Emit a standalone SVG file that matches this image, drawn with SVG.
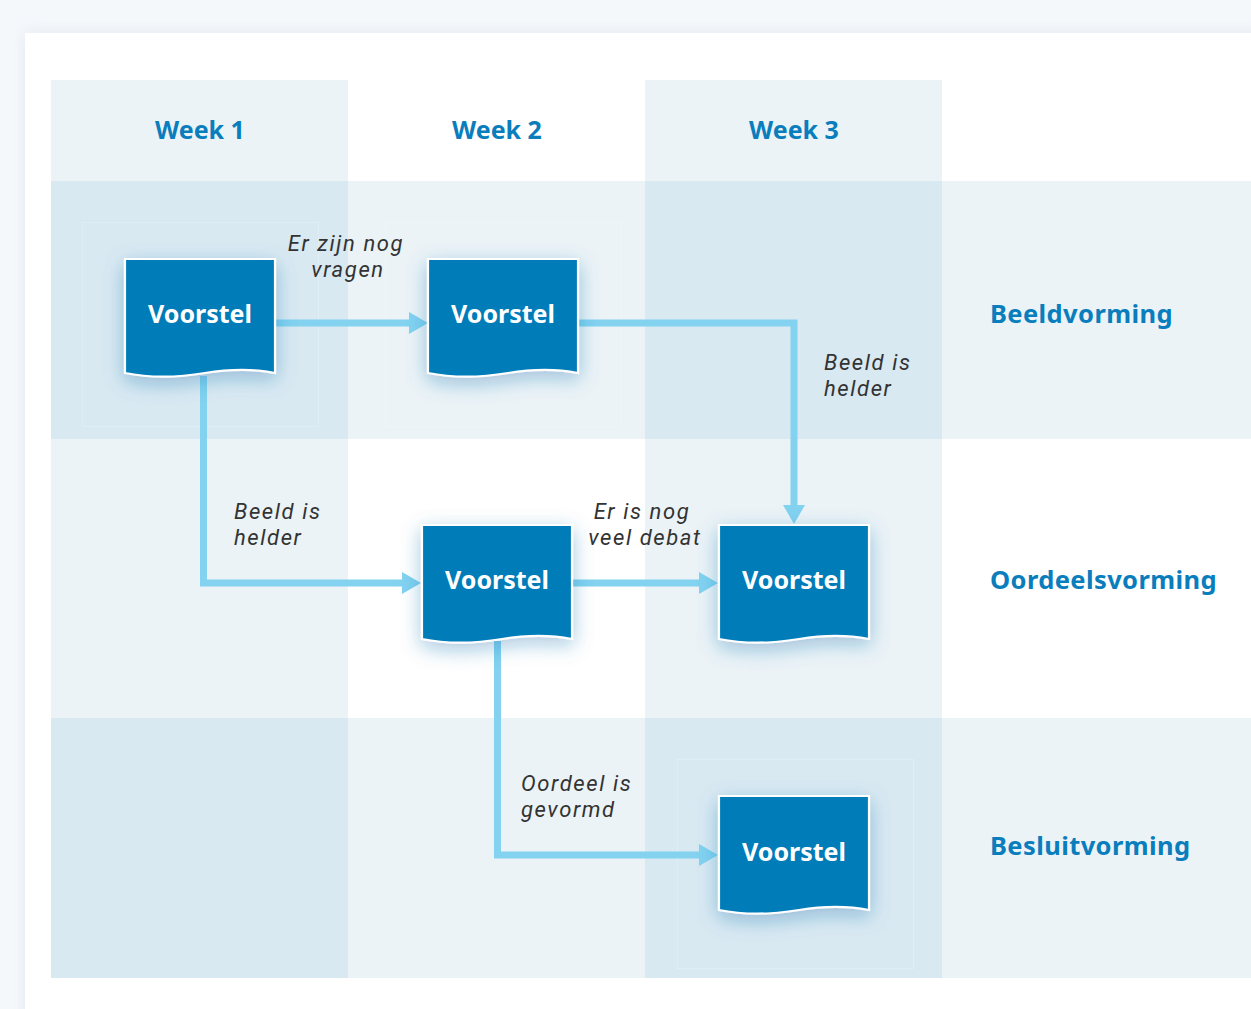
<svg xmlns="http://www.w3.org/2000/svg" width="1251" height="1009" viewBox="0 0 1251 1009">
  <defs>
    <style>
      .tint { fill: #ebf3f7; }
      .dark { fill: #d9e9f2; }
      .ghost { fill: none; stroke: #ffffff; stroke-opacity: 0.18; stroke-width: 1; }
      .node { fill: #007bb9; stroke: #ffffff; stroke-width: 2.2; filter: url(#shadow); }
      .ntext { font-family: "Noto Sans", "Liberation Sans", sans-serif; font-weight: 700; font-size: 25px; fill: #ffffff; text-anchor: middle; }
      .head { font-family: "Noto Sans", "Liberation Sans", sans-serif; font-weight: 700; font-size: 25px; fill: #0a7dbd; text-anchor: middle; }
      .row { font-family: "Noto Sans", "Liberation Sans", sans-serif; font-weight: 700; font-size: 25.5px; fill: #0a7dbd; letter-spacing: 0.4px; }
      .lbl { font-family: Roboto, "Liberation Sans", sans-serif; font-style: italic; font-size: 22px; fill: #333333; letter-spacing: 1.6px; }
      .mid { text-anchor: middle; }
      .conn { fill: none; stroke: #82d2f0; stroke-width: 7; stroke-linejoin: miter; }
    </style>
    <filter id="shadow" x="-40%" y="-40%" width="180%" height="190%">
      <feDropShadow dx="0" dy="6" stdDeviation="10" flood-color="#1e6fae" flood-opacity="0.38"/>
    </filter>
    <filter id="cardshadow" x="-5%" y="-5%" width="110%" height="110%">
      <feDropShadow dx="0" dy="0" stdDeviation="8" flood-color="#c9d6e6" flood-opacity="0.45"/>
    </filter>
    <marker id="arrow" markerUnits="userSpaceOnUse" viewBox="0 -11 19 22" markerWidth="19" markerHeight="22" refX="0" refY="0" orient="auto">
      <path d="M0,-11 L19,0 L0,11 Z" fill="#82d2f0"/>
    </marker>
  </defs>

  <!-- page and card -->
  <rect x="0" y="0" width="1251" height="1009" fill="#f5f8fb"/>
  <rect x="25" y="33" width="1240" height="990" fill="#ffffff" filter="url(#cardshadow)"/>

  <!-- grid background -->
  <g id="grid">
    <rect class="tint" x="51" y="80" width="297" height="898"/>
    <rect class="tint" x="645" y="80" width="297" height="898"/>
    <rect class="tint" x="51" y="181" width="1200" height="258"/>
    <rect class="tint" x="51" y="718" width="1200" height="260"/>
    <rect class="dark" x="51" y="181" width="297" height="258"/>
    <rect class="dark" x="645" y="181" width="297" height="258"/>
    <rect class="dark" x="51" y="718" width="297" height="260"/>
    <rect class="dark" x="645" y="718" width="297" height="260"/>
    <rect class="ghost" x="82.5" y="222.5" width="236" height="204"/>
    <rect class="ghost" x="385.5" y="222.5" width="236" height="204"/>
    <rect class="ghost" x="677.5" y="759.5" width="236" height="209"/>
  </g>

  <!-- headers -->
  <g id="headers">
    <text class="head" x="200" y="139">Week 1</text>
    <text class="head" x="497" y="139">Week 2</text>
    <text class="head" x="794" y="139">Week 3</text>
    <text class="row" x="990" y="323">Beeldvorming</text>
    <text class="row" x="990" y="589">Oordeelsvorming</text>
    <text class="row" x="990" y="855">Besluitvorming</text>
  </g>

  <!-- connectors -->
  <g id="connectors">
    <path class="conn" d="M276,323 H409" marker-end="url(#arrow)"/>
    <path class="conn" d="M579,323 H794 V505" marker-end="url(#arrow)"/>
    <path class="conn" d="M203.5,376 V583 H402" marker-end="url(#arrow)"/>
    <path class="conn" d="M573,583 H699" marker-end="url(#arrow)"/>
    <path class="conn" d="M497.5,641 V855 H699" marker-end="url(#arrow)"/>
    <text class="lbl mid"><tspan x="346" y="251">Er zijn nog</tspan><tspan x="348" y="277">vragen</tspan></text>
    <text class="lbl"><tspan x="824" y="370">Beeld is</tspan><tspan x="824" y="396">helder</tspan></text>
    <text class="lbl"><tspan x="234" y="519">Beeld is</tspan><tspan x="234" y="545">helder</tspan></text>
    <text class="lbl mid"><tspan x="642" y="519">Er is nog</tspan><tspan x="645" y="545">veel debat</tspan></text>
    <text class="lbl"><tspan x="521" y="791">Oordeel is</tspan><tspan x="521" y="817">gevormd</tspan></text>
  </g>

  <!-- nodes -->
  <g id="node1">
    <path class="node" d="M125,259 H275 V373 C255,369 235,368 205,373 C175,378 150,378 125,373 Z"/>
    <text class="ntext" x="200" y="323">Voorstel</text>
  </g>
  <g id="node2">
    <path class="node" d="M428,259 H578 V373 C558,369 538,368 508,373 C478,378 453,378 428,373 Z"/>
    <text class="ntext" x="503" y="323">Voorstel</text>
  </g>
  <g id="node3">
    <path class="node" d="M422,525 H572 V639 C552,635 532,634 502,639 C472,644 447,644 422,639 Z"/>
    <text class="ntext" x="497" y="589">Voorstel</text>
  </g>
  <g id="node4">
    <path class="node" d="M719,525 H869 V639 C849,635 829,634 799,639 C769,644 744,644 719,639 Z"/>
    <text class="ntext" x="794" y="589">Voorstel</text>
  </g>
  <g id="node5">
    <path class="node" d="M719,796 H869 V910 C849,906 829,905 799,910 C769,915 744,915 719,910 Z"/>
    <text class="ntext" x="794" y="861">Voorstel</text>
  </g>
</svg>
